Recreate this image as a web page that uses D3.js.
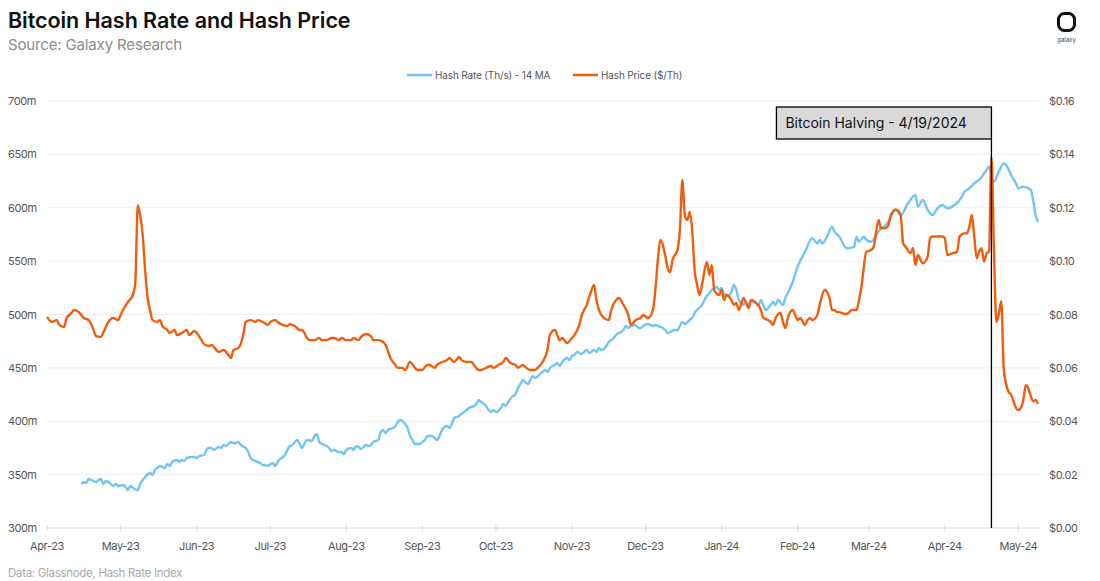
<!DOCTYPE html>
<html>
<head>
<meta charset="utf-8">
<script src="https://cdn.jsdelivr.net/npm/d3@7"></script>
<style>
  body { margin: 0; background: #fff; }
  text { font-family: Inter, "Noto Sans", sans-serif; }
</style>
</head>
<body>
<div id="chart"></div>
<script>
// day offsets counted from START (Apr 1, 2023)
const START = new Date(2023, 3, 1);
const END_DAY = 405;
const HALVING_DAY = 385;
const HALVING_LABEL = "Bitcoin Halving - 4/19/2024";

// hash price ($/Th)
const priceDay = [0,2,4,5,7,8,10,11,13,15,17,19,20,22,23,25,27,29,30,31,33,35,36,37,38,39,40,41,42,43,45,46,47,49,50,52,53,55,57,58,60,61,63,64,66,67,69,70,72,74,75,76,78,80,81,83,85,86,88,90,91,93,94,96,98,99,101,103,104,106,107,109,111,112,114,116,117,119,120,122,124,125,127,128,130,132,133,135,137,138,140,142,143,145,146,148,150,151,153,155,156,158,159,161,163,164,166,168,169,171,173,174,176,177,179,181,182,184,186,187,189,191,192,194,195,197,199,200,202,204,205,207,209,210,212,214,215,217,218,220,222,223,224,225,227,229,230,232,233,235,237,238,240,242,243,245,247,248,249,250,252,253,254,255,257,258,259,260,261,262,263,264,265,266,267,269,270,271,272,274,275,276,277,279,280,281,282,284,285,286,287,289,290,291,292,294,295,296,297,299,300,301,302,304,305,306,307,309,310,311,312,314,315,316,317,319,320,321,322,323,325,326,327,328,330,331,332,334,336,337,339,340,342,343,344,346,348,349,350,352,353,354,355,357,359,360,361,363,365,366,367,369,371,372,374,375,376,377,378,379,380,381,382,383,384,385,386,387,388,389,390,391,392,393,394,395,396,397,398,399,400,401,402,403,404];
const priceVal = [.0791,.0772,.0779,.0761,.0753,.0787,.0806,.0817,.0809,.0787,.0779,.0742,.0719,.0716,.0734,.0772,.0787,.0779,.0798,.0817,.0847,.0873,.0920,.1210,.1170,.1100,.0967,.0862,.0817,.0779,.0772,.0779,.0757,.0742,.0731,.0742,.0723,.0731,.0742,.0723,.0738,.0731,.0704,.0689,.0682,.0686,.0667,.0659,.0667,.0648,.0637,.0667,.0674,.0723,.0772,.0779,.0772,.0779,.0772,.0761,.0772,.0779,.0772,.0761,.0757,.0764,.0757,.0742,.0742,.0712,.0704,.0704,.0712,.0704,.0704,.0712,.0712,.0704,.0712,.0704,.0704,.0712,.0704,.0716,.0727,.0719,.0704,.0704,.0697,.0686,.0637,.0611,.0600,.0600,.0592,.0622,.0600,.0592,.0592,.0611,.0611,.0600,.0611,.0622,.0629,.0637,.0622,.0641,.0629,.0622,.0622,.0611,.0592,.0592,.0600,.0607,.0600,.0611,.0622,.0637,.0618,.0611,.0600,.0611,.0603,.0592,.0592,.0600,.0622,.0667,.0723,.0742,.0704,.0712,.0693,.0712,.0723,.0761,.0798,.0836,.0892,.0911,.0854,.0817,.0787,.0779,.0817,.0854,.0862,.0836,.0798,.0761,.0779,.0787,.0798,.0787,.0817,.0892,.1004,.1079,.1023,.0974,.0959,.1004,.1042,.1117,.1304,.1173,.1154,.1184,.1117,.0967,.0911,.0873,.0911,.0997,.0948,.0985,.0892,.0873,.0892,.0854,.0873,.0854,.0836,.0843,.0817,.0862,.0843,.0824,.0854,.0843,.0836,.0817,.0787,.0779,.0772,.0761,.0787,.0806,.0772,.0749,.0787,.0817,.0798,.0779,.0787,.0761,.0779,.0787,.0779,.0798,.0836,.0873,.0892,.0862,.0817,.0817,.0809,.0809,.0802,.0802,.0809,.0817,.0817,.0854,.0903,.1035,.1042,.1054,.1154,.1123,.1124,.1135,.1173,.1194,.1173,.1067,.1054,.1030,.1049,.0985,.1023,.0992,.1017,.1085,.1092,.1092,.1092,.1085,.1023,.1029,.1035,.1092,.1104,.1104,.1129,.1173,.1092,.1011,.1035,.1048,.0998,.1029,.1035,.1390,.1050,.0772,.0800,.0850,.0600,.0540,.0510,.0500,.0475,.0450,.0442,.0450,.0480,.0535,.0525,.0495,.0475,.0480,.0465];

// hash rate, 14-day moving average (millions of Th/s)
const rateDay = [14,15,16,17,18,20,21,22,23,24,26,27,28,29,31,32,33,34,35,37,38,39,40,42,43,44,45,46,48,49,50,51,53,54,55,56,57,59,60,61,62,64,65,66,67,68,70,71,72,73,75,76,77,78,79,81,82,83,84,86,87,88,89,90,92,93,94,95,97,98,99,100,102,103,104,105,106,108,109,110,111,113,114,115,116,117,119,120,121,122,124,125,126,127,128,130,131,132,133,135,136,137,138,139,141,142,143,144,146,147,148,149,150,152,153,154,155,157,158,159,160,161,163,164,165,166,168,169,170,171,172,174,175,176,177,179,180,181,182,183,185,186,187,188,190,191,192,193,194,196,197,198,199,201,202,203,204,205,207,208,209,210,212,213,214,215,216,218,219,220,221,223,224,225,226,228,229,230,231,232,234,235,236,237,238,240,241,242,243,245,246,247,248,249,251,252,253,254,256,257,258,259,260,262,263,264,265,267,268,269,270,271,273,274,275,276,278,279,280,281,282,284,285,286,287,289,290,291,292,293,295,296,297,298,300,301,302,304,306,309,312,314,315,316,318,320,321,323,326,329,330,331,333,334,336,338,340,342,344,346,348,351,353,354,355,357,359,361,363,365,367,370,373,374,376,378,380,383,384,386,388,390,391,393,395,396,398,400,401,402,403,404];
const rateVal = [341.2,343.1,342.2,345.9,345.0,343.1,345.0,345.9,341.2,344.0,341.2,339.3,341.2,339.3,340.3,338.4,335.6,339.3,337.5,335.6,341.2,345.0,347.8,351.5,349.6,354.3,356.2,358.1,356.2,360.0,358.1,361.8,363.7,361.8,363.7,362.8,365.6,366.5,366.5,365.6,367.4,368.4,373.1,374.9,374.9,373.1,375.9,374.9,377.8,376.8,380.6,379.6,379.6,380.6,377.8,374.9,371.2,365.6,363.7,361.8,360.9,359.0,359.0,358.1,360.9,358.1,361.8,364.6,368.4,373.1,376.8,377.8,382.4,378.7,374.9,379.6,382.4,381.5,386.2,388.1,380.6,377.8,376.8,374.9,372.1,373.1,371.2,371.2,369.3,373.1,374.9,373.1,376.8,375.9,374.0,377.8,376.8,377.8,380.6,382.4,389.9,391.8,389.0,391.8,393.7,395.6,399.3,401.2,397.4,393.7,386.2,382.4,378.7,378.7,380.6,382.4,386.2,386.2,384.3,382.4,386.2,391.8,395.6,393.7,397.4,403.0,404.9,406.8,408.7,410.5,412.4,414.3,416.2,419.9,418.0,414.3,410.5,408.7,410.5,408.7,412.4,416.2,414.3,418.0,423.7,425.5,431.2,434.9,438.6,434.9,438.6,442.4,440.5,444.3,446.1,448.0,446.1,449.9,452.7,454.6,451.8,455.5,459.3,457.4,461.1,462.1,464.9,463.0,464.9,466.7,463.9,466.7,464.9,468.6,466.7,470.5,474.2,476.1,478.0,480.8,483.6,485.5,489.2,487.4,489.2,490.2,487.4,487.4,489.2,491.1,490.2,489.2,490.2,489.2,487.4,485.5,482.7,483.6,485.5,485.5,489.2,493.0,491.1,494.9,496.7,501.4,504.2,508.9,513.6,517.3,520.1,523.0,525.8,523.0,524.8,519.2,517.3,521.1,527.6,523.0,513.6,508.9,511.7,508.0,513.6,510.8,508.0,513.6,508.9,504.2,508.9,511.7,508.9,513.6,508.9,515.5,520.1,530.7,544.8,558.8,571.4,566.7,569.8,566.7,572.9,582.3,577.6,572.9,562.0,563.5,572.9,568.2,572.9,569.8,568.2,574.5,580.8,583.8,591.6,597.9,593.2,604.2,610.4,612.0,601.0,607.3,597.9,593.2,599.5,602.6,599.5,602.6,610.4,615.0,618.2,622.9,626.0,635.4,638.5,624.4,633.8,641.6,640.1,630.7,622.9,618.2,619.7,618.2,616.6,607.3,593.2,586.6];

const leftTicks = [300,350,400,450,500,550,600,650,700];
const rightTicks = [0,0.02,0.04,0.06,0.08,0.10,0.12,0.14,0.16];

const blue = "#72c5f3", orange = "#f25d0d";
const width = 1100, height = 581;
const plot = {left: 47, right: 1040.5, top: 101, bottom: 528};

const svg = d3.select('#chart').append('svg')
    .attr("width", width)
    .attr("height", height);

const x = d3.scaleTime()
    .domain([START, d3.timeDay.offset(START, END_DAY)])
    .range([plot.left, plot.right]);
const yL = d3.scaleLinear().domain([300, 700]).range([plot.bottom, plot.top]);
const yR = d3.scaleLinear().domain([0, 0.16]).range([plot.bottom, plot.top]);

// titles
svg.append("text").attr("x", 8).attr("y", 28)
    .attr("font-size", 21.5).attr("font-weight", 600).attr("letter-spacing", -0.05)
    .attr("fill", "#111").text("Bitcoin Hash Rate and Hash Price");
svg.append("text").attr("x", 8).attr("y", 50)
    .attr("font-size", 15).attr("letter-spacing", -0.15)
    .attr("fill", "#8c8c8c").text("Source: Galaxy Research");
svg.append("text").attr("x", 8).attr("y", 577)
    .attr("font-size", 11.5).attr("letter-spacing", -0.3)
    .attr("fill", "#aaa").text("Data: Glassnode, Hash Rate Index");

// logo
svg.append("rect").attr("x", 1058.5).attr("y", 13.5).attr("width", 16).attr("height", 17)
    .attr("rx", 6).attr("fill", "none").attr("stroke", "#111").attr("stroke-width", 3);
svg.append("text").attr("x", 1066.5).attr("y", 42).attr("text-anchor", "middle")
    .attr("font-size", 6).attr("fill", "#444").text("galaxy");

// legend
const legend = [
    {label: "Hash Rate (Th/s) - 14 MA", color: blue, x: 407},
    {label: "Hash Price ($/Th)", color: orange, x: 573}
];
const lg = svg.selectAll(".legend").data(legend).enter().append("g").attr("class", "legend");
lg.append("line")
    .attr("x1", d => d.x).attr("x2", d => d.x + 25)
    .attr("y1", 75).attr("y2", 75)
    .attr("stroke", d => d.color).attr("stroke-width", 2.5);
lg.append("text")
    .attr("x", d => d.x + 28).attr("y", 78.5)
    .attr("font-size", 10).attr("letter-spacing", -0.15).attr("fill", "#555")
    .text(d => d.label);

// grid
svg.selectAll(".grid").data(leftTicks.slice(1)).enter().append("line")
    .attr("x1", plot.left).attr("x2", plot.right)
    .attr("y1", d => yL(d)).attr("y2", d => yL(d))
    .attr("stroke", "#ededed").attr("stroke-width", 1);

// y labels
svg.selectAll(".yLabels").data(leftTicks).enter().append("text")
    .attr("x", 8).attr("y", d => yL(d) + 4)
    .attr("font-size", 11).attr("letter-spacing", -0.4).attr("fill", "#555")
    .text(d => d + "m");
svg.selectAll(".yRLabels").data(rightTicks).enter().append("text")
    .attr("x", 1049).attr("y", d => yR(d) + 4)
    .attr("font-size", 11).attr("letter-spacing", -0.4).attr("fill", "#555")
    .text(d => "$" + d.toFixed(2));

// x axis
svg.append("line").attr("x1", plot.left).attr("x2", plot.right)
    .attr("y1", plot.bottom).attr("y2", plot.bottom)
    .attr("stroke", "#d6d6d6");
const months = d3.timeMonth.range(START, d3.timeDay.offset(START, END_DAY));
svg.selectAll(".xTicks").data(months).enter().append("line")
    .attr("x1", d => x(d)).attr("x2", d => x(d))
    .attr("y1", plot.bottom - 3).attr("y2", plot.bottom + 3)
    .attr("stroke", "#d6d6d6");
svg.selectAll(".xLabels").data(months).enter().append("text")
    .attr("x", d => x(d)).attr("y", 550)
    .attr("text-anchor", "middle")
    .attr("font-size", 11).attr("letter-spacing", -0.4).attr("fill", "#555")
    .text(d3.timeFormat("%b-%y"));

// series
const rate = rateDay.map((d, i) => ({date: d3.timeDay.offset(START, d), v: rateVal[i]}));
const price = priceDay.map((d, i) => ({date: d3.timeDay.offset(START, d), v: priceVal[i]}));

svg.append("path").datum(rate)
    .attr("fill", "none").attr("stroke", blue).attr("stroke-width", 2.4)
    .attr("stroke-linejoin", "round")
    .attr("d", d3.line().x(d => x(d.date)).y(d => yL(d.v)).curve(d3.curveMonotoneX));
svg.append("path").datum(price)
    .attr("fill", "none").attr("stroke", orange).attr("stroke-width", 2.4)
    .attr("stroke-linejoin", "round")
    .attr("d", d3.line().x(d => x(d.date)).y(d => yR(d.v)).curve(d3.curveMonotoneX));

// halving annotation
const hx = x(d3.timeDay.offset(START, HALVING_DAY));
svg.append("line").attr("x1", hx).attr("x2", hx)
    .attr("y1", 139).attr("y2", plot.bottom)
    .attr("stroke", "#000").attr("stroke-width", 1.3);
svg.append("rect").attr("x", hx - 215).attr("y", 107).attr("width", 215).attr("height", 32)
    .attr("fill", "#d9d9d9").attr("stroke", "#000").attr("stroke-width", 1.3);
svg.append("text").attr("x", hx - 206).attr("y", 128)
    .attr("font-size", 14).attr("letter-spacing", 0).attr("fill", "#111")
    .text(HALVING_LABEL);
</script>
</body>
</html>
